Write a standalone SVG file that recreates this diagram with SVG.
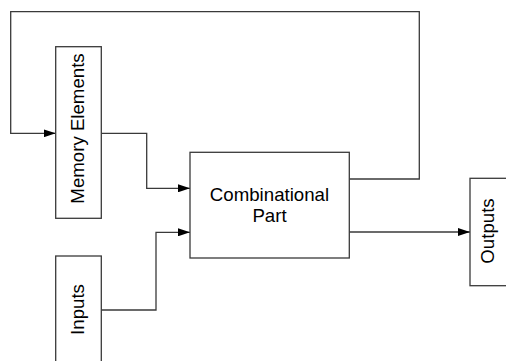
<svg xmlns="http://www.w3.org/2000/svg" width="506" height="361" viewBox="0 0 506 361">
  <style>
    .box { fill: #ffffff; stroke: #3a3a3a; stroke-width: 1.3; }
    .wire { fill: none; stroke: #3a3a3a; stroke-width: 1.3; }
    .label { font-family: "Liberation Sans", Arial, sans-serif; font-size: 18.67px; fill: #000000; }
  </style>
  <defs>
    <marker id="arrow" markerWidth="12" markerHeight="8" refX="12" refY="4" orient="auto" markerUnits="userSpaceOnUse">
      <path d="M0,0 L12,4 L0,8 Z" fill="#000000"/>
    </marker>
  </defs>
  <rect width="506" height="361" fill="#ffffff"/>

  <g id="connectors">
    <!-- feedback loop: combinational part back to memory -->
    <path class="wire" d="M349.3,179 H419.3 V11.7 H10.7 V133.3 H55.7" marker-end="url(#arrow)"/>
    <!-- memory to combinational part -->
    <path class="wire" d="M101.3,133.3 H146.7 V188.3 H190" marker-end="url(#arrow)"/>
    <!-- inputs to combinational part -->
    <path class="wire" d="M101.3,310 H156 V232.3 H190" marker-end="url(#arrow)"/>
    <!-- combinational part to outputs -->
    <path class="wire" d="M349.3,232 H470" marker-end="url(#arrow)"/>
  </g>

  <g id="memory">
    <rect class="box" x="55.7" y="46.7" width="45.6" height="171.6"/>
    <text class="label" text-anchor="middle" transform="translate(84,128.5) rotate(-90)">Memory Elements</text>
  </g>

  <g id="inputs">
    <rect class="box" x="55.7" y="256" width="45.6" height="120"/>
    <text class="label" text-anchor="middle" transform="translate(84,309.5) rotate(-90)">Inputs</text>
  </g>

  <g id="combinational">
    <rect class="box" x="190" y="152.3" width="159.3" height="105.7"/>
    <text class="label" text-anchor="middle" x="269.5" y="200.5">Combinational</text>
    <text class="label" text-anchor="middle" x="269.5" y="221.7">Part</text>
  </g>

  <g id="outputs">
    <rect class="box" x="470" y="178.3" width="50" height="107.4"/>
    <text class="label" text-anchor="middle" transform="translate(494,231) rotate(-90)">Outputs</text>
  </g>
</svg>
